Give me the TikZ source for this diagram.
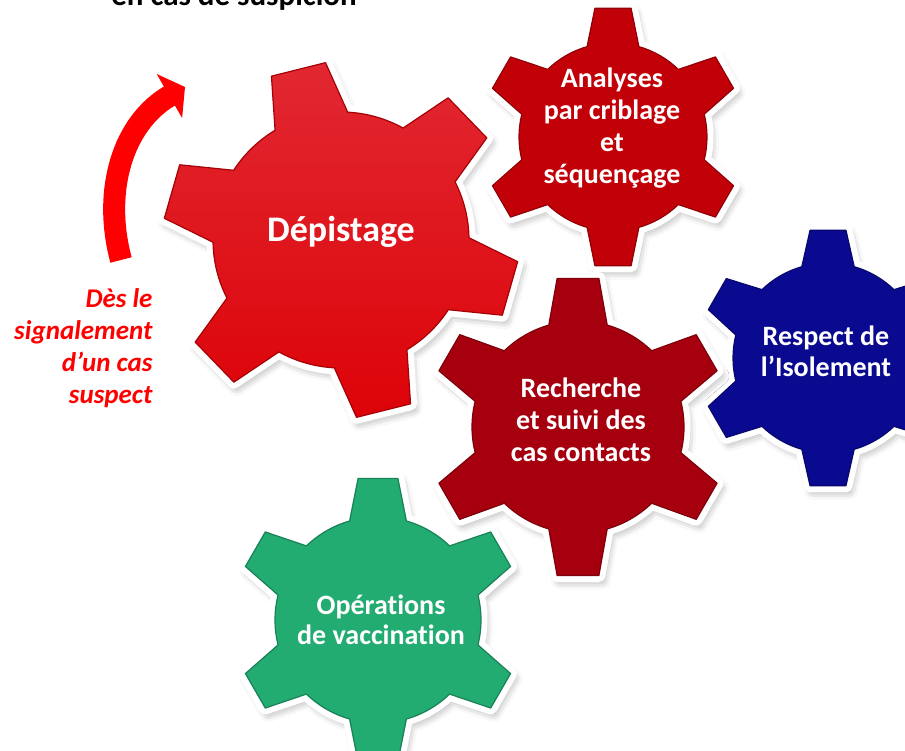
\documentclass[tikz,border=0pt]{standalone}
\usepackage{fontspec}
\setmainfont{Carlito}[Ligatures=NoCommon]
\usepackage{tikz}
\usetikzlibrary{arrows.meta}
\usetikzlibrary{shadows.blur}

\definecolor{depistred}{HTML}{DC0308}
\definecolor{depisttop}{HTML}{E22832}
\definecolor{analysred}{HTML}{C20008}
\definecolor{recherred}{HTML}{A6000F}
\definecolor{isolblue}{HTML}{0A0A90}
\definecolor{vaccgreen}{HTML}{22AC72}

% outline of a six-tooth gear round the origin: inner radius, outer radius, phase, tip half angle, base half angle
\newcommand{\gearpath}[5]{({#3-#5}:#1)
  \foreach \k in {0,...,5}{
    -- ({#3+60*\k-#4}:#2) -- ({#3+60*\k+#4}:#2) -- ({#3+60*\k+#5}:#1)
    arc[start angle={#3+60*\k+#5}, end angle={#3+60*\k+60-#5}, radius=#1]
  } -- cycle}

% centre, inner radius, outer radius, phase, tip half angle, base half angle, fill style
\newcommand{\gear}[7]{%
  \begin{scope}[shift={#1}]
    \path[gearrim] \gearpath{#2}{#3}{#4}{#5}{#6};
    \path[line width=1.2pt, line join=round, #7] \gearpath{#2}{#3}{#4}{#5}{#6};
  \end{scope}}

\tikzset{
  gearrim/.style={fill=white, draw=white, line width=13pt, line join=round,
    blur shadow={shadow xshift=3pt, shadow yshift=-5pt, shadow blur radius=9pt, shadow opacity=45}},
  gearlabel/.style={text=white, align=center, font=\bfseries\fontsize{28}{32}\selectfont},
}

\begin{document}
\begin{tikzpicture}[x=1pt, y=1pt]
  \useasboundingbox (0,0) rectangle (905,-751);

  \node[anchor=base, font=\bfseries\fontsize{31}{36}\selectfont] (titre) at (234,-6) {en cas de suspicion};

  % gears
  \gear{(341,-240)}{128}{178}{44}{9}{17}{top color=depisttop, bottom color=depistred, draw=depistred!75!black}
  \gear{(613,-137)}{94}{130}{90}{8}{16}{fill=analysred, draw=analysred!75!black}
  \gear{(828,-358)}{95}{129}{90}{8}{16}{fill=isolblue, draw=isolblue!75!black}
  \gear{(578,-427)}{106}{150}{90}{8}{16}{fill=recherred, draw=recherred!75!black}
  \gear{(378,-620)}{103}{143}{90}{8}{16}{fill=vaccgreen, draw=vaccgreen!75!black}

  \node[gearlabel, font=\bfseries\fontsize{36}{40}\selectfont] (depistage) at (341,-232) {Dépistage};
  \node[gearlabel] (analyses) at (612,-128) {Analyses\\par criblage\\et\\séquençage};
  \node[gearlabel, font=\bfseries\fontsize{28}{31}\selectfont] (isolement) at (826,-351) {Respect de\\l’Isolement};
  \node[gearlabel] (recherche) at (581,-420) {Recherche\\et suivi des\\cas contacts};
  \node[gearlabel, font=\bfseries\fontsize{28}{30}\selectfont] (vaccination) at (381,-620) {Opérations\\de vaccination};

  % curved arrow
  \coordinate (arrowtail) at (121,-260);
  \coordinate (arrowtip) at (185,-87);
  \draw[red, line width=22pt, -{Triangle[width=50pt,length=18pt]}] (arrowtail) to[out=105, in=210] (arrowtip);

  \node[anchor=east, align=right, text=red, font=\bfseries\itshape\fontsize{27}{32}\selectfont] (signalement) at (156,-348) {Dès le\\signalement\\d’un cas\\suspect};
\end{tikzpicture}
\end{document}
